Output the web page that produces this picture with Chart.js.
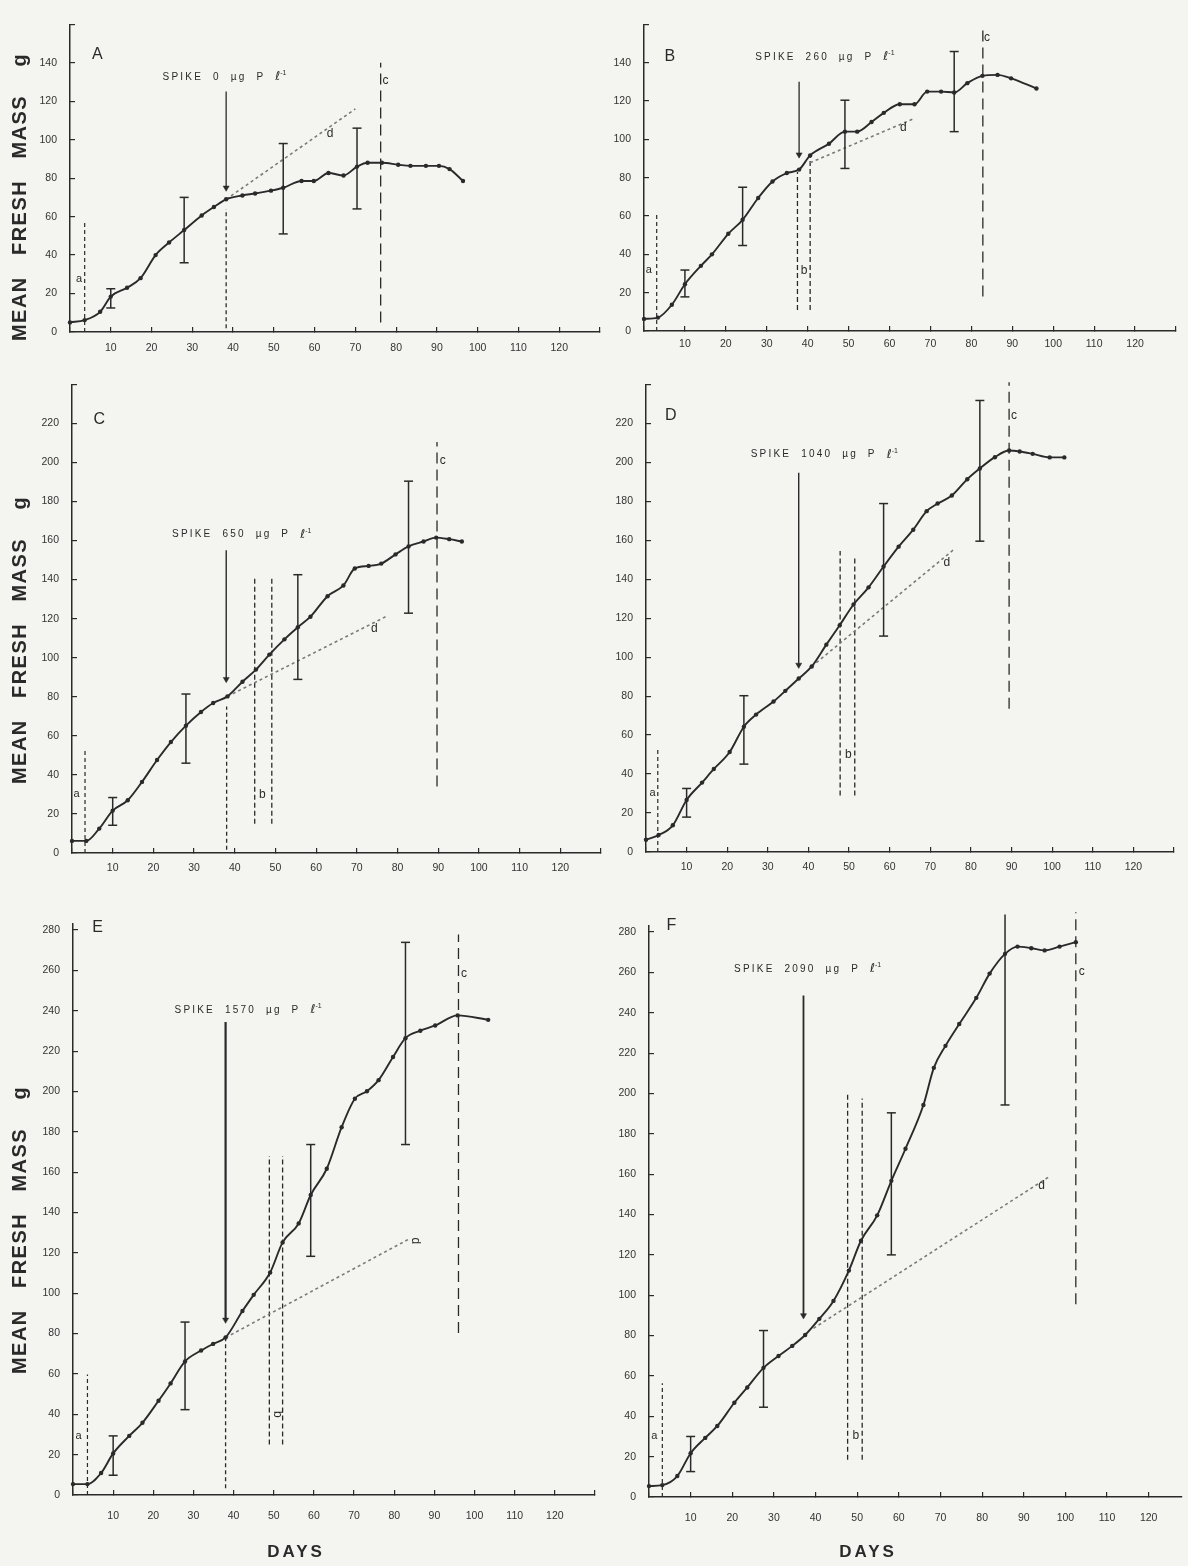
<!DOCTYPE html>
<html>
<head>
<meta charset="utf-8">
<script src="https://cdn.jsdelivr.net/npm/chart.js@4.4.1/dist/chart.umd.min.js"></script>
<style>
html,body{margin:0;padding:0;background:#f4f4f1;}
#wrap{position:relative;width:1188px;height:1566px;overflow:hidden;background:#f4f4f1;}
canvas{position:absolute;}
</style>
</head>
<body>
<div id="wrap"></div>
<script>
// ---------------- DATA ----------------
const spikeDoses = ['0', '260', '650', '1040', '1570', '2090'];

// Panel A
const daysA = [0, 3.6, 7.4, 10, 14, 17.3, 21, 24.3, 28, 32.3, 35.3, 38.3, 42.3, 45.4, 49.3, 52.3, 56.8, 59.8, 63.4, 67.1, 70.4, 73, 76.5, 80.5, 83.5, 87.3, 90.5, 93.1, 96.4];
const massA = [5, 6.2, 10.5, 18.4, 23, 28, 40, 46.5, 53, 60.6, 65, 69, 71, 72, 73.5, 75, 78.5, 78.5, 82.7, 81.4, 86, 88, 88, 87, 86.4, 86.4, 86.4, 84.7, 78.5];
const errDaysA = [10, 28, 52.3, 70.4];
const errLowA = [12.5, 36, 51, 64];
const errHighA = [22.5, 70, 98, 106];
const aLineA = [3.6, 0, 57];
const spikeLineA = [38.3, 2, 64];
const bLinesA = [];
const cLineA = [76.2, 5, 140];
const dLineA = [38.3, 69, 70, 116];
const arrowA = [38.3, 125, 75];

// Panel B
const daysB = [0, 3.4, 6.8, 10, 13.9, 16.6, 20.6, 24.1, 27.9, 31.4, 34.9, 37.9, 40.6, 45.2, 49.1, 52.1, 55.6, 58.6, 62.5, 66.1, 69.2, 72.6, 75.8, 79, 82.7, 86.4, 89.7, 95.9];
const massB = [6.3, 7, 13.7, 24.4, 34, 40, 50.7, 58, 69.4, 78, 82.4, 84.2, 91.6, 97.7, 104, 104, 109, 113.8, 118.3, 118.3, 124.9, 124.9, 124.4, 129.3, 133.1, 133.6, 131.8, 126.5];
const errDaysB = [10, 24.1, 49.1, 75.8];
const errLowB = [17.8, 44.6, 84.8, 104];
const errHighB = [31.8, 75, 120.4, 145.8];
const aLineB = [3.1, 0, 62];
const spikeLineB = [];
const bLinesB = [37.5, 11, 83, 40.6, 11, 92];
const cLineB = [82.8, 18, 157];
const dLineB = [40.6, 87.8, 66.2, 111];
const arrowB = [37.9, 130, 92];

// Panel C
const daysC = [0, 3.5, 6.7, 10, 13.7, 17.2, 20.9, 24.3, 28, 31.7, 34.7, 38.2, 41.9, 45.2, 48.5, 52.2, 55.5, 58.6, 62.8, 66.7, 69.5, 72.9, 76, 79.5, 82.7, 86.4, 89.5, 92.7, 95.8];
const massC = [6.2, 6.2, 12.5, 21.7, 27, 36.4, 47.6, 56.8, 65.2, 72.2, 76.8, 80.2, 87.7, 93.9, 101.6, 109.4, 115.6, 121, 131.5, 137, 145.7, 147, 148.2, 152.9, 157, 159.5, 161.5, 160.7, 159.5];
const errDaysC = [10, 28, 55.5, 82.7];
const errLowC = [14.2, 46, 88.9, 122.8];
const errHighC = [28.4, 81.4, 142.5, 190.4];
const aLineC = [3.2, 0, 52.6];
const spikeLineC = [38, 1.7, 75];
const bLinesC = [44.9, 15, 141, 49.1, 15, 141];
const cLineC = [89.7, 34, 210.5];
const dLineC = [38.2, 80.2, 77.1, 121];
const arrowC = [37.9, 155, 89];

// Panel D
const daysD = [0, 3.1, 6.6, 10, 13.8, 16.7, 20.6, 24.1, 27.1, 31.4, 34.3, 37.6, 40.8, 44.4, 47.7, 51.1, 54.8, 58.5, 62.2, 65.8, 69.1, 71.8, 75.3, 79.1, 82.2, 85.9, 89.4, 92, 95.2, 99.4, 103];
const massD = [6.3, 8.7, 13.7, 26.7, 35.6, 42.6, 51.3, 64.3, 70.5, 77.2, 82.7, 89, 95.2, 106.4, 116.4, 127, 135.8, 146.5, 156.7, 165.4, 174.9, 178.8, 182.9, 191.3, 196.8, 202.6, 206, 205.5, 204.3, 202.5, 202.5];
const errDaysD = [10, 24.1, 58.5, 82.2];
const errLowD = [17.9, 45.1, 110.8, 159.5];
const errHighD = [32.6, 80.2, 178.8, 231.7];
const aLineD = [2.9, 0, 53.5];
const spikeLineD = [];
const bLinesD = [47.8, 29, 154.5, 51.4, 29, 150.8];
const cLineD = [89.4, 73.5, 241];
const dLineD = [40.8, 95.2, 75.9, 155.4];
const arrowD = [37.6, 194.6, 96];

// Panel E
const daysE = [0, 3.6, 7, 10, 14, 17.3, 21.3, 24.3, 27.9, 31.9, 34.9, 38, 42.2, 45, 49.1, 52.2, 56.2, 59.2, 63.2, 66.9, 70.2, 73.2, 76.1, 79.7, 82.8, 86.5, 90.2, 95.8, 103.4];
const massE = [5.4, 5.4, 10.9, 20.6, 29.3, 35.8, 46.7, 55.3, 66.2, 71.6, 74.9, 78.1, 91.2, 99.2, 110.3, 125.2, 134.6, 148.7, 161.7, 182.3, 196.4, 200.1, 205.6, 217.1, 226.4, 230.1, 232.7, 237.7, 235.5];
const errDaysE = [10, 27.9, 59.2, 82.8];
const errLowE = [9.8, 42.3, 118.3, 173.7];
const errHighE = [29.3, 85.7, 173.7, 273.9];
const aLineE = [3.6, 0, 59.7];
const spikeLineE = [38, 3.3, 78];
const bLinesE = [48.9, 25, 168, 52.2, 25, 168];
const cLineE = [96, 80.3, 277.8];
const dLineE = [38, 78, 83.8, 127];
const arrowE = [38, 234.4, 86.8];

// Panel F
const daysF = [0, 3.2, 6.8, 10, 13.5, 16.4, 20.5, 23.6, 27.5, 31.1, 34.4, 37.5, 40.9, 44.3, 48, 50.9, 54.8, 58.2, 61.6, 65.9, 68.4, 71.2, 74.5, 78.6, 81.8, 85.5, 88.5, 91.8, 95, 98.6, 102.5];
const massF = [5.4, 5.9, 10.4, 21.7, 29.3, 35.2, 46.7, 54.3, 64, 69.9, 74.9, 80.3, 88.3, 97.2, 112.2, 127, 139.6, 156.7, 172.6, 194.3, 212.7, 223.6, 234.4, 247.4, 259.4, 269.2, 272.8, 272, 270.9, 272.8, 275];
const errDaysF = [10, 27.5, 58.2, 85.5];
const errLowF = [12.6, 44.5, 120, 194.3];
const errHighF = [30, 82.5, 190.4, 288.7];
const aLineF = [3.2, 0, 56.4];
const spikeLineF = [];
const bLinesF = [47.7, 18.4, 199.7, 51.2, 18.4, 197.5];
const cLineF = [102.5, 95.5, 289.8];
const dLineF = [39.5, 83.6, 95.9, 158.5];
const arrowF = [37.1, 248.5, 90];

// ---------------- LAYOUT (page pixels / label anchors / styles) ----------------
const FONT = '"Liberation Sans", Arial, Helvetica, sans-serif';
const layoutA = {canvas:[0,0,615,362], area:[70,13,601,332], xMax:130, yMax:160, yLabelMax:140, xPad:15, yTitle:[20,197], arrowW:1.3,
  letter:[6.7,144], spike:[37.9,132.7], la:[2.2,27.8], lb:null, lc:[77.4,130.8], ld:[63.8,103.2]};
const layoutB = {canvas:[590,0,598,362], area:[644,7,1183,331], xMax:130, yMax:160, yLabelMax:140, xPad:12, arrowW:1.3,
  letter:[6.3,143], spike:[44.2,142.8], la:[1.2,31.8], lb:[39.1,31.6], lc:[83.8,152.8], ld:[63.4,105.9]};
const layoutC = {canvas:[0,360,615,522], area:[72,374,605,853], xMax:130, yMax:240, yLabelMax:220, xPad:14, yTitle:[20,640], arrowW:1.4,
  letter:[6.7,222], spike:[41.7,163], la:[1.1,30], lb:[46.8,30], lc:[91.1,201], ld:[74.3,115.1]};
const layoutD = {canvas:[590,360,598,522], area:[646,372,1186,852], xMax:130, yMax:240, yLabelMax:220, xPad:14, arrowW:1.4,
  letter:[6.1,224], spike:[43.9,203.9], la:[1.6,30.1], lb:[49.8,50.1], lc:[90.6,224], ld:[74.1,148.7]};
const layoutE = {canvas:[0,880,615,686], area:[73,924,606,1495], xMax:130, yMax:283, yLabelMax:280, xPad:20, yTitle:[20,1230], xTitle:[296,1552], arrowW:2.2,
  letter:[6.1,281], spike:[43.6,240.5], la:[1.4,29.3], lb:[50.8,40], lc:[97.4,258.4], ld:[85.3,126], rotBD:true};
const layoutF = {canvas:[590,880,598,686], area:[649,926,1186,1497], xMax:128, yMax:283, yLabelMax:280, xPad:20, xTitle:[868,1552], arrowW:1.8,
  letter:[5.4,283], spike:[38.1,261.6], la:[1.3,30.4], lb:[49.7,30.4], lc:[103.9,260.5], ld:[94.3,154.1]};

const panels = [
  {id:'A', days:daysA, mass:massA, errDays:errDaysA, errLow:errLowA, errHigh:errHighA, aLine:aLineA, spikeLine:spikeLineA, bLines:bLinesA, cLine:cLineA, dLine:dLineA, arrow:arrowA, dose:spikeDoses[0], L:layoutA},
  {id:'B', days:daysB, mass:massB, errDays:errDaysB, errLow:errLowB, errHigh:errHighB, aLine:aLineB, spikeLine:spikeLineB, bLines:bLinesB, cLine:cLineB, dLine:dLineB, arrow:arrowB, dose:spikeDoses[1], L:layoutB},
  {id:'C', days:daysC, mass:massC, errDays:errDaysC, errLow:errLowC, errHigh:errHighC, aLine:aLineC, spikeLine:spikeLineC, bLines:bLinesC, cLine:cLineC, dLine:dLineC, arrow:arrowC, dose:spikeDoses[2], L:layoutC},
  {id:'D', days:daysD, mass:massD, errDays:errDaysD, errLow:errLowD, errHigh:errHighD, aLine:aLineD, spikeLine:spikeLineD, bLines:bLinesD, cLine:cLineD, dLine:dLineD, arrow:arrowD, dose:spikeDoses[3], L:layoutD},
  {id:'E', days:daysE, mass:massE, errDays:errDaysE, errLow:errLowE, errHigh:errHighE, aLine:aLineE, spikeLine:spikeLineE, bLines:bLinesE, cLine:cLineE, dLine:dLineE, arrow:arrowE, dose:spikeDoses[4], L:layoutE},
  {id:'F', days:daysF, mass:massF, errDays:errDaysF, errLow:errLowF, errHigh:errHighF, aLine:aLineF, spikeLine:spikeLineF, bLines:bLinesF, cLine:cLineF, dLine:dLineF, arrow:arrowF, dose:spikeDoses[5], L:layoutF}
];

const INK = '#2a2a2a';

function segment(x1, y1, x2, y2, style) {
  return Object.assign({
    data: [{x:x1, y:y1}, {x:x2, y:y2}],
    showLine: true, pointRadius: 0, pointHoverRadius: 0, clip: false,
    borderColor: INK, borderWidth: 1.3, order: 5
  }, style);
}

function buildDatasets(P) {
  const ds = [];
  ds.push({
    data: P.days.map((d, i) => ({x: d, y: P.mass[i]})),
    showLine: true, borderColor: INK, borderWidth: 1.9,
    pointRadius: 2.2, pointHoverRadius: 2.2, pointBackgroundColor: INK, pointBorderWidth: 0,
    cubicInterpolationMode: 'monotone', order: 0, clip: false
  });
  P.errDays.forEach((d, i) => {
    ds.push(segment(d, P.errLow[i], d, P.errHigh[i], {
      borderWidth: 1.5, pointStyle: 'line', pointRadius: 4.5, pointHoverRadius: 4.5,
      pointBorderWidth: 1.5, pointBorderColor: INK, order: 1
    }));
  });
  if (P.aLine.length) ds.push(segment(P.aLine[0], P.aLine[1], P.aLine[0], P.aLine[2], {borderDash:[4,3], borderWidth:1.2}));
  if (P.spikeLine.length) ds.push(segment(P.spikeLine[0], P.spikeLine[1], P.spikeLine[0], P.spikeLine[2], {borderDash:[4,3], borderWidth:1.3}));
  for (let k = 0; k < P.bLines.length; k += 3) {
    ds.push(segment(P.bLines[k], P.bLines[k+1], P.bLines[k], P.bLines[k+2], {borderDash:[5,3], borderWidth:1.3}));
  }
  if (P.cLine.length) ds.push(segment(P.cLine[0], P.cLine[1], P.cLine[0], P.cLine[2], {borderDash:[11,6], borderWidth:1.3}));
  if (P.dLine.length) ds.push(segment(P.dLine[0], P.dLine[1], P.dLine[2], P.dLine[3], {borderDash:[3,3], borderWidth:1.6, borderColor:'#7a7a7a', order:4}));
  if (P.arrow.length) ds.push(segment(P.arrow[0], P.arrow[1], P.arrow[0], P.arrow[2], {
    borderWidth: P.L.arrowW, pointStyle: 'triangle', pointRadius: [0, 3.5], pointHoverRadius: [0, 3.5],
    pointRotation: 180, pointBackgroundColor: INK, pointBorderColor: INK, pointBorderWidth: 0.5
  }));
  return ds;
}

function makeTextPlugin(P) {
  const L = P.L;
  return {
    id: 'panelText' + P.id,
    afterDraw(chart) {
      const ctx = chart.ctx, xs = chart.scales.x, ys = chart.scales.y;
      const ox = L.canvas[0], oy = L.canvas[1];
      ctx.save();
      ctx.fillStyle = INK;
      ctx.textAlign = 'center';
      ctx.textBaseline = 'middle';
      const put = (txt, pos, font, ls, rot) => {
        if (!pos) return;
        const px = xs.getPixelForValue(pos[0]), py = ys.getPixelForValue(pos[1]);
        ctx.save();
        ctx.font = font;
        ctx.letterSpacing = ls || '0px';
        ctx.translate(px, py);
        if (rot) ctx.rotate(rot);
        ctx.fillText(txt, 0, 0);
        ctx.restore();
      };
      // spike annotation: "SPIKE <dose> µg P ℓ⁻¹" with a raised -1
      const spikeParts = [
        {t: `SPIKE  ${P.dose}  µg  P  `, f: `10px ${FONT}`, ls: '2.2px', dy: 0},
        {t: 'ℓ', f: `12px "DejaVu Sans", ${FONT}`, ls: '0px', dy: 0},
        {t: '-1', f: `7px ${FONT}`, ls: '0px', dy: -4}
      ];
      ctx.save();
      ctx.textAlign = 'left';
      let total = 0;
      spikeParts.forEach(s => { ctx.font = s.f; ctx.letterSpacing = s.ls; s.w = ctx.measureText(s.t).width; total += s.w; });
      let sx = xs.getPixelForValue(L.spike[0]) - total / 2;
      const sy = ys.getPixelForValue(L.spike[1]);
      spikeParts.forEach(s => { ctx.font = s.f; ctx.letterSpacing = s.ls; ctx.fillText(s.t, sx, sy + s.dy); sx += s.w; });
      ctx.restore();

      put(P.id, L.letter, `16px ${FONT}`);
      put('a', L.la, `11px ${FONT}`);
      put('b', L.lb, `12px ${FONT}`, '0px', L.rotBD ? Math.PI / 2 : 0);
      put('c', L.lc, `12px ${FONT}`);
      put('d', L.ld, `12px ${FONT}`, '0px', L.rotBD ? Math.PI / 2 : 0);
      if (L.yTitle) {
        ctx.save();
        ctx.font = `bold 20px ${FONT}`;
        ctx.letterSpacing = '1.5px';
        ctx.translate(L.yTitle[0] - ox, L.yTitle[1] - oy);
        ctx.rotate(-Math.PI / 2);
        ctx.fillText('MEAN   FRESH   MASS    g', 0, 0);
        ctx.restore();
      }
      if (L.xTitle) {
        ctx.save();
        ctx.font = `bold 17px ${FONT}`;
        ctx.letterSpacing = '3px';
        ctx.fillText('DAYS', L.xTitle[0] - ox, L.xTitle[1] - oy);
        ctx.restore();
      }
      ctx.restore();
    }
  };
}

const wrap = document.getElementById('wrap');
panels.forEach(P => {
  const L = P.L;
  const [cx, cy, cw, ch] = L.canvas;
  const [aL, aT, aR, aB] = L.area;
  const cv = document.createElement('canvas');
  cv.width = cw; cv.height = ch;
  cv.style.left = cx + 'px'; cv.style.top = cy + 'px';
  cv.style.width = cw + 'px'; cv.style.height = ch + 'px';
  wrap.appendChild(cv);
  const yW = aL - cx, xH = (cy + ch) - aB;
  new Chart(cv.getContext('2d'), {
    type: 'scatter',
    data: {datasets: buildDatasets(P)},
    options: {
      responsive: false, animation: false, devicePixelRatio: 1,
      layout: {padding: {left: 0, top: aT - cy, right: (cx + cw) - aR, bottom: 0}},
      plugins: {legend: {display: false}, tooltip: {enabled: false}},
      events: [],
      scales: {
        x: {
          type: 'linear', position: 'bottom', min: 0, max: L.xMax,
          afterFit: s => { s.height = xH; },
          border: {display: true, color: INK, width: 1.5},
          grid: {display: true, drawOnChartArea: false, drawTicks: true, tickLength: -5, color: INK, lineWidth: 1.2},
          ticks: {stepSize: 10, autoSkip: false, maxRotation: 0, includeBounds: false, padding: L.xPad,
            color: '#333', font: {family: FONT, size: 10.5},
            callback: v => (v === 0 || v > 120) ? '' : String(v)}
        },
        y: {
          type: 'linear', position: 'left', min: 0, max: L.yMax,
          afterFit: s => { s.width = yW; },
          border: {display: true, color: INK, width: 1.5},
          grid: {display: true, drawOnChartArea: false, drawTicks: true, tickLength: -5, color: INK, lineWidth: 1.2},
          ticks: {stepSize: 20, autoSkip: false, includeBounds: false, padding: 18,
            color: '#333', font: {family: FONT, size: 10.5},
            callback: v => v > L.yLabelMax ? '' : String(v)}
        }
      }
    },
    plugins: [makeTextPlugin(P)]
  });
});
</script>
</body>
</html>
